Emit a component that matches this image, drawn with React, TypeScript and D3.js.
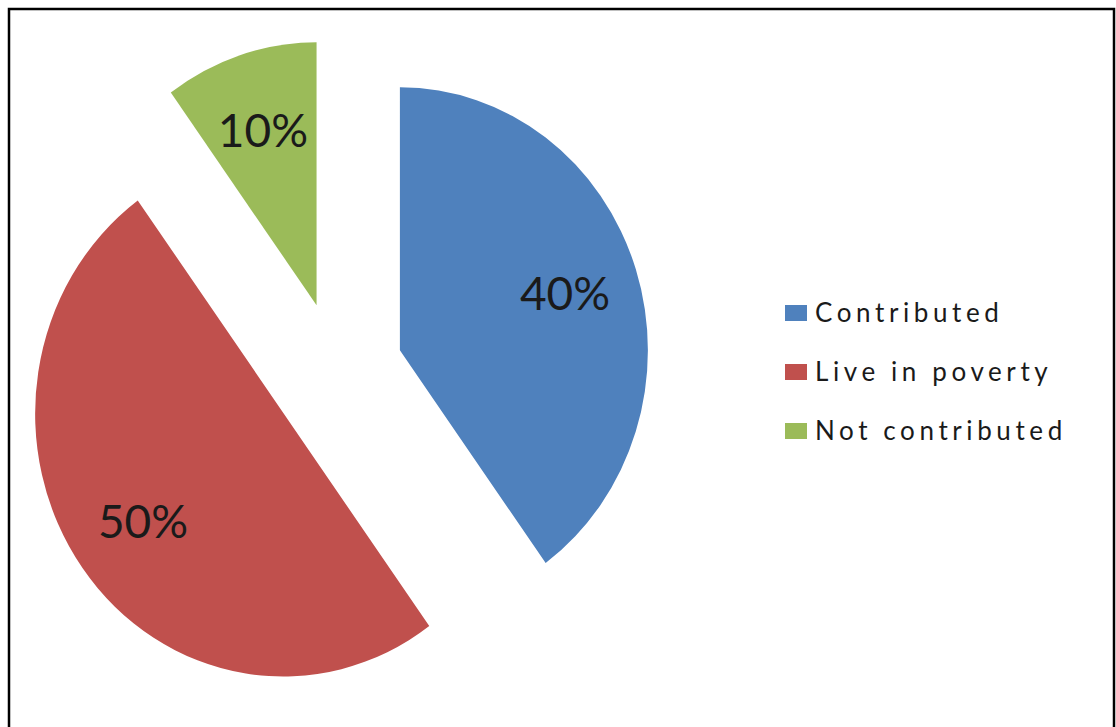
import React from "react";
import * as d3 from "d3";

const categories = ["Contributed", "Live in poverty", "Not contributed"];
const values = [40, 50, 10];
const labels = ["40%", "50%", "10%"];
const colors = ["#4F81BD", "#C0504D", "#9BBB59"];

const W = 1116;
const H = 727;
const cx = 337;
const cy = 372;
const R = 255;
const sx = 248 / 255;
const sy = 263 / 255;
const explode = 68;
const labelR = 0.7 * R;

export default function App() {
  const pie = d3
    .pie<number>()
    .sort(null)
    .value((d) => d)
    .startAngle(0)
    .endAngle(2 * Math.PI);
  const arcs = pie(values);
  const arc = d3.arc<d3.PieArcDatum<number>>().innerRadius(0).outerRadius(R);
  const lab = d3.arc<d3.PieArcDatum<number>>().innerRadius(labelR * 2).outerRadius(labelR * 2);

  return (
    <svg
      width={W}
      height={H}
      style={{ position: "absolute", left: 0, top: 0, background: "#fff" }}
    >
      <rect x={9} y={9} width={1105} height={800} fill="#fff" stroke="#000" strokeWidth={2.5} />
      <g transform={`translate(${cx},${cy}) scale(${sx},${sy})`}>
        {arcs.map((a, i) => {
          const mid = (a.startAngle + a.endAngle) / 2;
          const ox = explode * Math.sin(mid);
          const oy = -explode * Math.cos(mid);
          return (
            <path
              key={i}
              d={arc(a) || ""}
              transform={`translate(${ox},${oy})`}
              fill={colors[i]}
            />
          );
        })}
      </g>
      {arcs.map((a, i) => {
        const mid = (a.startAngle + a.endAngle) / 2;
        const [lx0, ly0] = lab.centroid(a);
        const scaleL = labelR / Math.hypot(lx0, ly0);
        const ux = lx0 * scaleL + explode * Math.sin(mid);
        const uy = ly0 * scaleL - explode * Math.cos(mid);
        return (
          <text
            key={i}
            x={cx + ux * sx}
            y={cy + uy * sy}
            dy="0.36em"
            textAnchor="middle"
            fontFamily="Lato, 'Open Sans', sans-serif"
            fontSize={46}
            fill="#1a1a1a"
          >
            {labels[i]}
          </text>
        );
      })}
      <g>
        {categories.map((c, i) => {
          const y = 322 + i * 59;
          return (
            <g key={c}>
              <rect x={785} y={y - 17} width={22} height={16} fill={colors[i]} />
              <text
                x={815}
                y={y}
                fontFamily="Lato, 'Open Sans', sans-serif"
                fontSize={26}
                letterSpacing={4.6}
                fill="#1a1a1a"
              >
                {c}
              </text>
            </g>
          );
        })}
      </g>
    </svg>
  );
}
